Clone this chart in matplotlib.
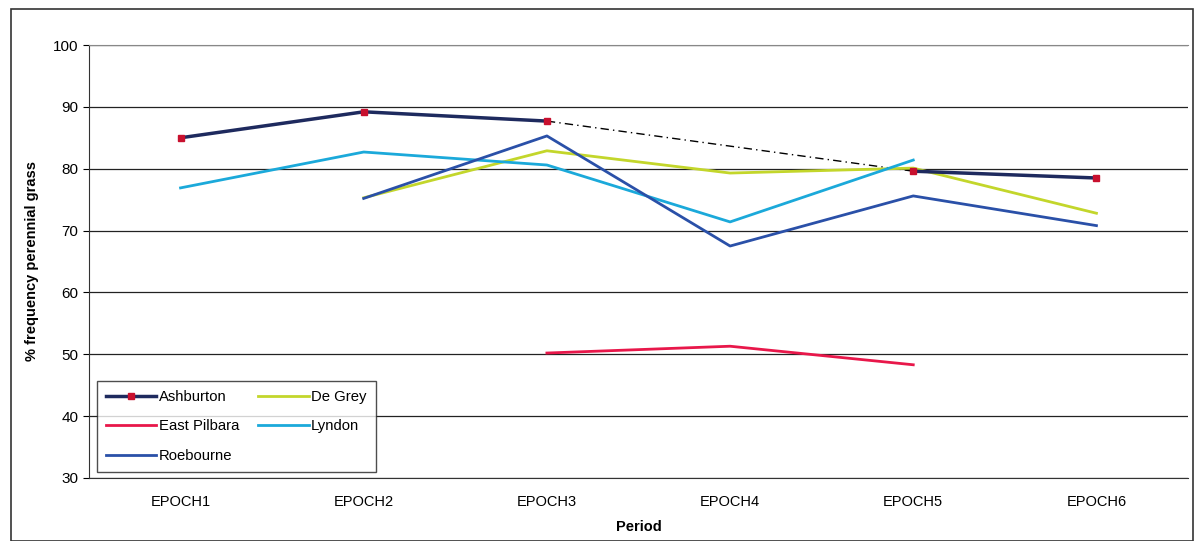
import matplotlib
matplotlib.use("Agg")
import matplotlib.pyplot as plt
import numpy as np
from matplotlib.patches import Rectangle

plt.rcParams['font.family'] = ['Liberation Sans', 'DejaVu Sans']

periods = ["EPOCH1", "EPOCH2", "EPOCH3", "EPOCH4", "EPOCH5", "EPOCH6"]
ashburton = [85.0, 89.2, 87.7, np.nan, 79.6, 78.5]
de_grey = [np.nan, 75.3, 82.9, 79.3, 80.1, 72.8]
east_pilbara = [np.nan, np.nan, 50.2, 51.3, 48.3, np.nan]
lyndon = [76.9, 82.7, 80.6, 71.4, 81.4, np.nan]
roebourne = [np.nan, 75.2, 85.3, 67.5, 75.6, 70.8]

fig = plt.figure(figsize=(11.94, 5.41), dpi=100)
ax = fig.add_axes([0.0745, 0.1165, 0.9205, 0.8003])

x = np.arange(len(periods))

# dash-dot connector across the Ashburton gap
a = np.array(ashburton)
valid = ~np.isnan(a)
gap_idx = [i for i in range(1, len(a) - 1) if np.isnan(a[i])]
for g in gap_idx:
    lo = max(i for i in range(g) if valid[i])
    hi = min(i for i in range(g + 1, len(a)) if valid[i])
    ax.plot([x[lo], x[hi]], [a[lo], a[hi]], color='black', lw=1.0,
            linestyle=(0, (6, 3, 1, 3)), zorder=2)

ax.plot(x, de_grey, color='#C3D62B', lw=2, label='De Grey', zorder=3)
ax.plot(x, east_pilbara, color='#E8174A', lw=2, label='East Pilbara', zorder=3)
ax.plot(x, lyndon, color='#1BA9DA', lw=2, label='Lyndon', zorder=3)
ax.plot(x, roebourne, color='#2A50A8', lw=2, label='Roebourne', zorder=3)
ax.plot(x, ashburton, color='#1E2A5E', lw=2.5, marker='s', markersize=4.5,
        markerfacecolor='#C8102E', markeredgecolor='#C8102E', label='Ashburton', zorder=4)

ax.set_xlim(-0.5, len(periods) - 0.5)
ax.set_ylim(30, 100)
ax.set_yticks(range(30, 101, 10))
ax.set_xticks(x)
ax.set_xticklabels(periods, fontsize=10.5)
ax.tick_params(axis='y', labelsize=11, length=4, direction='out')
ax.tick_params(axis='x', length=0, pad=12)
ax.yaxis.grid(True, color='#222222', lw=0.9)
ax.set_axisbelow(True)
ax.spines['right'].set_visible(False)
ax.spines['top'].set_color('#888888')
ax.spines['left'].set_color('#333333')
ax.spines['bottom'].set_color('#333333')

ax.set_xlabel('Period', fontsize=10.5, fontweight='bold', labelpad=8)
ax.set_ylabel('% frequency perennial grass', fontsize=10.5, fontweight='bold', labelpad=10)

h, l = ax.get_legend_handles_labels()
# column-major fill giving row order: Ashburton, De Grey / East Pilbara, Lyndon / Roebourne
order = ['Ashburton', 'East Pilbara', 'Roebourne', 'De Grey', 'Lyndon']
hd = dict(zip(l, h))
leg = ax.legend([hd[k] for k in order], order, loc='lower left',
                bbox_to_anchor=(0.0073, 0.014), borderaxespad=0, ncol=2, fontsize=10.7,
                frameon=True, fancybox=False, edgecolor='#222222',
                handlelength=3.4, columnspacing=1.3, borderpad=0.6,
                labelspacing=1.05, handletextpad=0.15)
leg.get_frame().set_linewidth(1.0)

fig.patches.append(Rectangle((0.009, 0.0), 0.99, 0.983, transform=fig.transFigure,
                             fill=False, edgecolor='#333333', lw=1.2))

fig.savefig('out.png', dpi=100)
